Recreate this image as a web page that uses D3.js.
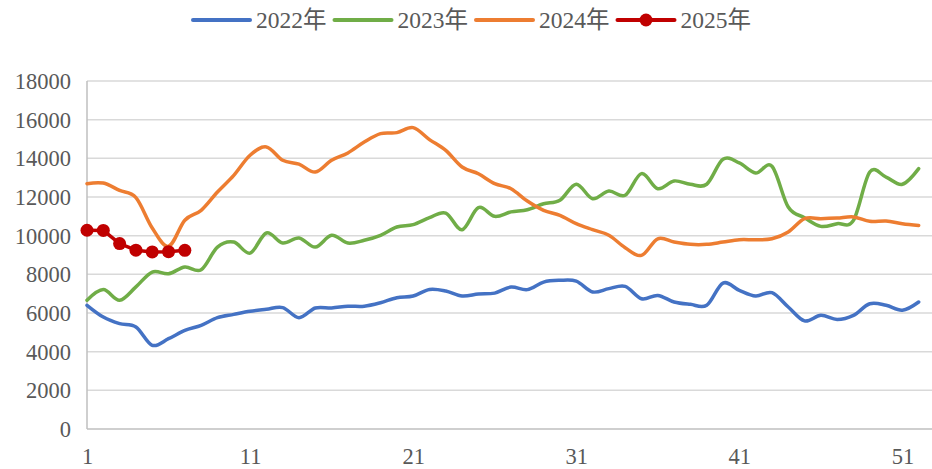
<!DOCTYPE html>
<html>
<head>
<meta charset="utf-8">
<script src="https://cdn.jsdelivr.net/npm/d3@7"></script>
<style>
  html, body { margin: 0; padding: 0; background: #fff; }
  svg { display: block; }
  text { font-family: "Liberation Serif", "Noto Sans CJK SC", serif; fill: #595959; }
</style>
</head>
<body>
<svg id="chart" width="932" height="469"></svg>
<script>
const weeks = d3.range(1, 53);
const xTicks = [1, 11, 21, 31, 41, 51];
const yTicks = [0, 2000, 4000, 6000, 8000, 10000, 12000, 14000, 16000, 18000];
const seriesNames = ["2022年", "2023年", "2024年", "2025年"];
const seriesColors = ["#4472C4", "#70AD47", "#ED7D31", "#C00000"];

const v2022 = [6400,5790,5450,5280,4330,4670,5100,5360,5760,5930,6090,6190,6280,5760,6260,6260,6350,6350,6530,6790,6880,7220,7140,6880,6980,7030,7345,7210,7600,7690,7650,7090,7260,7380,6740,6910,6570,6450,6400,7550,7170,6880,7050,6310,5590,5880,5670,5880,6480,6400,6140,6570];
const v2023 = [6660,7210,6660,7350,8120,8030,8380,8240,9410,9670,9100,10140,9620,9880,9410,10020,9620,9760,10020,10450,10570,10930,11170,10310,11450,11000,11230,11340,11650,11830,12660,11910,12310,12090,13210,12430,12830,12660,12660,13950,13760,13240,13590,11480,10930,10480,10620,10790,13290,13030,12660,13470];
const v2024 = [12690,12720,12340,11970,10400,9450,10800,11310,12260,13120,14160,14590,13900,13700,13290,13900,14280,14840,15280,15330,15590,14970,14410,13550,13200,12690,12430,11790,11310,11050,10620,10310,10020,9380,8980,9840,9670,9550,9550,9670,9790,9790,9840,10190,10880,10880,10910,10970,10740,10760,10620,10530];
const v2025 = [10280,10270,9590,9250,9160,9170,9240];

const seriesValues = [v2022, v2023, v2024, v2025];

const svg = d3.select("#chart");
const x = d3.scaleLinear().domain([1, 53]).range([87, 935]);
const y = d3.scaleLinear().domain([0, 18000]).range([429, 81]);

// gridlines
svg.append("g").selectAll("line").data(yTicks.filter(d => d > 0)).join("line")
  .attr("x1", x(1)).attr("x2", 932)
  .attr("y1", d => y(d)).attr("y2", d => y(d))
  .attr("stroke", "#d9d9d9").attr("stroke-width", 1.5);

// axes lines
svg.append("line").attr("x1", x(1)).attr("x2", 932).attr("y1", y(0)).attr("y2", y(0))
  .attr("stroke", "#bfbfbf").attr("stroke-width", 1.5);
svg.append("line").attr("x1", x(1)).attr("x2", x(1)).attr("y1", y(0)).attr("y2", y(18000))
  .attr("stroke", "#bfbfbf").attr("stroke-width", 1.5);

// y axis labels
const yAxis = d3.axisLeft(y).tickValues(yTicks).tickSize(0).tickPadding(0).tickFormat(d3.format("d"));
const gy = svg.append("g").attr("transform", `translate(71,0)`).call(yAxis);
gy.select(".domain").remove();
gy.selectAll("text").attr("font-size", 22.5).attr("dy", "0.34em")
  .style("font-family", '"Liberation Serif", serif').attr("fill", "#595959");

// x axis labels
const xAxis = d3.axisBottom(x).tickValues(xTicks).tickSize(0).tickPadding(0).tickFormat(d3.format("d"));
const gx = svg.append("g").attr("transform", `translate(0,448)`).call(xAxis);
gx.select(".domain").remove();
gx.selectAll("text").attr("font-size", 22.5).attr("dy", "0.72em")
  .style("font-family", '"Liberation Serif", serif').attr("fill", "#595959");

// lines
const smooth = d3.line().x((d, i) => x(weeks[i])).y(d => y(d)).curve(d3.curveCardinal.tension(0));
const straight = d3.line().x((d, i) => x(weeks[i])).y(d => y(d));

[0, 1, 2].forEach(k => {
  svg.append("path").datum(seriesValues[k])
    .attr("d", smooth).attr("fill", "none")
    .attr("stroke", seriesColors[k]).attr("stroke-width", 3.5)
    .attr("stroke-linejoin", "round").attr("stroke-linecap", "round");
});
svg.append("path").datum(v2025)
  .attr("d", straight).attr("fill", "none")
  .attr("stroke", seriesColors[3]).attr("stroke-width", 3.5).attr("stroke-linejoin", "round");
svg.append("g").selectAll("circle").data(v2025).join("circle")
  .attr("cx", (d, i) => x(weeks[i])).attr("cy", d => y(d)).attr("r", 6.5)
  .attr("fill", seriesColors[3]);

// legend
const legend = svg.append("g");
let lx = 193;
seriesNames.forEach((name, i) => {
  const g = legend.append("g");
  g.append("line").attr("x1", lx).attr("x2", lx + 57).attr("y1", 20).attr("y2", 20)
    .attr("stroke", seriesColors[i]).attr("stroke-width", 4).attr("stroke-linecap", "round");
  if (i === 3) {
    g.append("circle").attr("cx", lx + 28.5).attr("cy", 20).attr("r", 6.5).attr("fill", seriesColors[i]);
  }
  const t = g.append("text").attr("x", lx + 63).attr("y", 28).attr("font-size", 23.5).text(name);
  const w = t.node().getComputedTextLength();
  lx = lx + 63 + w + 8;
});
</script>
</body>
</html>
